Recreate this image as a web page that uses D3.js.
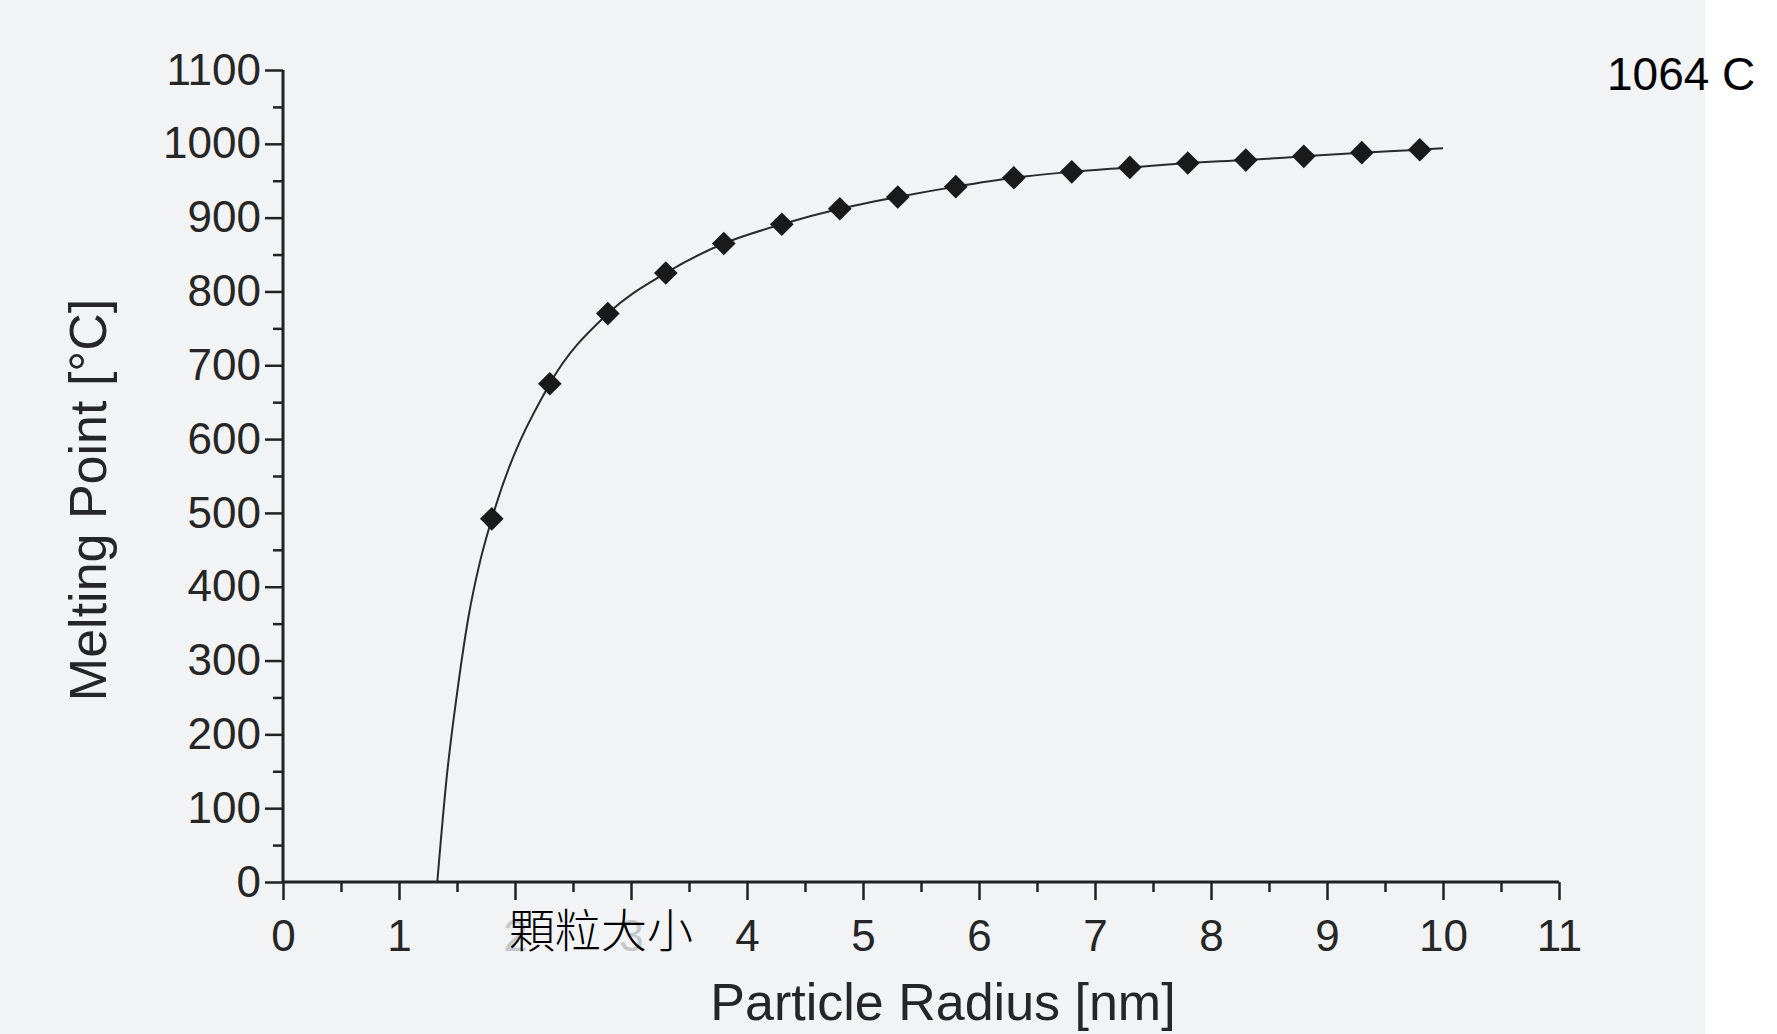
<html lang="en">
	<head>
		<meta charset="utf-8">
		<title>Melting Point vs Particle Radius</title>
		<script src="https://d3js.org/d3.v7.min.js"></script>
		<style type="text/css">
			body {
				margin: 0;
				background-color: white;
			}
			.axis text {
				font-family: "Liberation Sans", Arial, sans-serif;
				font-size: 44px;
				fill: #262626;
			}
			.axis line {
				stroke: #222;
				stroke-width: 2.5;
			}
		</style>
	</head>
	<body>
		<script type="text/javascript">

			//Particle radius of the measured points [nm]
			var radius = [1.8, 2.3, 2.8, 3.3, 3.8, 4.3, 4.8, 5.3, 5.8, 6.3, 6.8, 7.3, 7.8, 8.3, 8.8, 9.3, 9.8];
			//Melting point of the measured points [°C]
			var melting = [492, 675, 770, 825, 865, 891, 912, 928, 942, 954, 962, 968, 974, 978, 983, 988, 992];

			//Fitted curve
			var curveR = [1.33, 1.41, 1.5, 1.6, 1.7, 1.8, 2.3, 2.8, 3.3, 3.8, 4.3, 4.8, 5.3, 5.8, 6.3, 6.8, 7.3, 7.8, 8.3, 8.8, 9.3, 9.8, 10.0];
			var curveT = [0, 140, 255, 360, 435, 492, 675, 770, 825, 865, 891, 912, 928, 942, 954, 962, 968, 974, 978, 983, 988, 992, 994];

			//Tick labels
			var xTicks = [0, 1, 2, 3, 4, 5, 6, 7, 8, 9, 10, 11];
			var yTicks = [0, 100, 200, 300, 400, 500, 600, 700, 800, 900, 1000, 1100];
			//labels sitting under the pasted-on Chinese caption, faded in the scan
			var fadedTicks = [2, 3];

			var w = 1777;
			var h = 1034;

			var svg = d3.select("body")
						.append("svg")
						.attr("width", w)
						.attr("height", h);

			//scanned page background
			svg.append("rect")
				.attr("x", 0)
				.attr("y", 0)
				.attr("width", 1705)
				.attr("height", h)
				.attr("fill", "#f1f3f5");

			var xScale = d3.scaleLinear()
					.domain([0, 11])
					.range([283, 1559]);

			var yScale = d3.scaleLinear()
					.domain([0, 1100])
					.range([882, 70]);

			//minor ticks
			svg.append("g")
				.attr("class", "axis")
				.attr("transform", "translate(0,882)")
				.call(d3.axisBottom(xScale)
					.tickValues(d3.range(0.5, 11, 1))
					.tickSize(10)
					.tickFormat(""));

			svg.append("g")
				.attr("class", "axis")
				.attr("transform", "translate(283,0)")
				.call(d3.axisLeft(yScale)
					.tickValues(d3.range(50, 1100, 100))
					.tickSize(10)
					.tickFormat(""));

			//X axis
			var gx = svg.append("g")
				.attr("class", "axis")
				.attr("transform", "translate(0,882)")
				.call(d3.axisBottom(xScale)
					.tickValues(xTicks)
					.tickSize(18)
					.tickPadding(20)
					.tickFormat(d3.format("d")));

			gx.selectAll(".tick")
				.filter(function(d) { return fadedTicks.indexOf(d) >= 0; })
				.select("text")
				.style("fill", "#c4c7ca");

			//Y axis
			svg.append("g")
				.attr("class", "axis")
				.attr("transform", "translate(283,0)")
				.call(d3.axisLeft(yScale)
					.tickValues(yTicks)
					.tickSize(18)
					.tickPadding(4)
					.tickFormat(d3.format("d")));

			svg.selectAll(".axis .domain").remove();

			//axis lines
			svg.append("line")
				.attr("x1", xScale(0))
				.attr("x2", xScale(11))
				.attr("y1", yScale(0))
				.attr("y2", yScale(0))
				.attr("stroke", "#222")
				.attr("stroke-width", 3);

			svg.append("line")
				.attr("x1", xScale(0))
				.attr("x2", xScale(0))
				.attr("y1", yScale(0))
				.attr("y2", yScale(1100))
				.attr("stroke", "#222")
				.attr("stroke-width", 3);

			//Curve
			var line = d3.line()
				.x(function(d, i) { return xScale(curveR[i]); })
				.y(function(d, i) { return yScale(curveT[i]); })
				.curve(d3.curveMonotoneX);

			svg.append("path")
				.datum(curveR)
				.attr("d", line)
				.attr("fill", "none")
				.attr("stroke", "#2a2a2a")
				.attr("stroke-width", 2);

			//Diamonds
			svg.selectAll(".pt")
			   .data(radius)
			   .enter()
			   .append("path")
			   .attr("class", "pt")
			   .attr("d", d3.symbol().type(d3.symbolSquare).size(280))
			   .attr("transform", function(d, i) {
			   		return "translate(" + xScale(d) + "," + yScale(melting[i]) + ") rotate(45)";
			   })
			   .attr("fill", "#1a1a1a");

			//Axis titles
			svg.append("text")
				.attr("x", 943)
				.attr("y", 1020)
				.attr("text-anchor", "middle")
				.attr("font-family", "Liberation Sans, Arial, sans-serif")
				.attr("font-size", "52px")
				.attr("fill", "#262626")
				.text("Particle Radius [nm]");

			svg.append("text")
				.attr("transform", "translate(106,500) rotate(-90)")
				.attr("text-anchor", "middle")
				.attr("font-family", "Liberation Sans, Arial, sans-serif")
				.attr("font-size", "52px")
				.attr("fill", "#262626")
				.text("Melting Point [°C]");

			svg.append("text")
				.attr("x", 601)
				.attr("y", 947)
				.attr("text-anchor", "middle")
				.attr("font-family", "Noto Sans CJK TC, sans-serif")
				.attr("font-size", "46px")
				.attr("font-weight", 300)
				.attr("fill", "black")
				.text("顆粒大小");

			svg.append("text")
				.attr("x", 1607)
				.attr("y", 90)
				.attr("font-family", "Liberation Sans, Arial, sans-serif")
				.attr("font-size", "46px")
				.attr("fill", "black")
				.text("1064 C");

		</script>
	</body>
</html>
